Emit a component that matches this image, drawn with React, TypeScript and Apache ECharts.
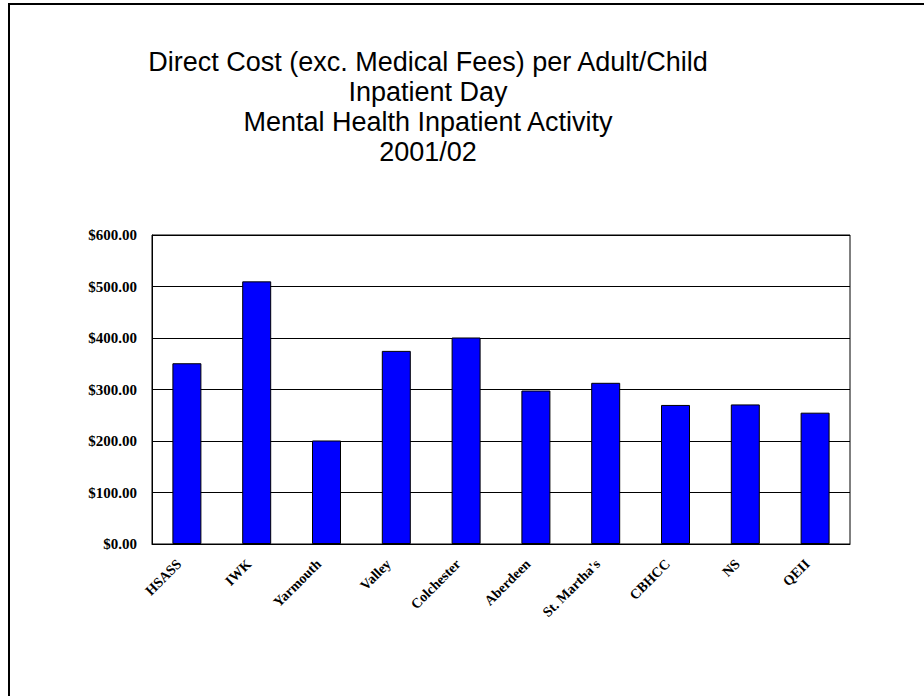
import React, { useEffect, useRef } from "react";
import * as echarts from "echarts";

const titleLines = [
  "Direct Cost (exc. Medical Fees) per Adult/Child",
  "Inpatient Day",
  "Mental Health Inpatient Activity",
  "2001/02",
];
const categories = [
  "HSASS",
  "IWK",
  "Yarmouth",
  "Valley",
  "Colchester",
  "Aberdeen",
  "St. Martha's",
  "CBHCC",
  "NS",
  "QEII",
];
const costPerDay = [351, 510, 201, 375, 401, 298, 313, 270, 271, 255];
const yMin = 0;
const yMax = 600;
const yStep = 100;

export default function App() {
  const ref = useRef<HTMLDivElement>(null);
  useEffect(() => {
    if (!ref.current) return;
    const chart = echarts.init(ref.current, null, { renderer: "svg" });
    chart.setOption({
      animation: false,
      backgroundColor: "#ffffff",
      title: {
        text: titleLines.join("\n"),
        left: 428,
        top: 47,
        padding: 0,
        textAlign: "center",
        textStyle: {
          fontFamily: "Liberation Sans",
          fontSize: 27,
          lineHeight: 30,
          fontWeight: "normal",
          color: "#000000",
        },
      },
      graphic: [
        {
          type: "rect",
          shape: { x: 9, y: 4, width: 1200, height: 1200 },
          style: { fill: "none", stroke: "#000000", lineWidth: 2 },
          silent: true,
        },
      ],
      grid: {
        left: 152,
        top: 235,
        right: 74,
        bottom: 152,
        show: true,
        borderColor: "#000000",
        borderWidth: 1,
        backgroundColor: "#ffffff",
      },
      xAxis: {
        type: "category",
        data: categories,
        axisTick: { show: false },
        axisLine: { lineStyle: { color: "#000000", width: 1 } },
        axisLabel: {
          rotate: 45,
          margin: 10,
          padding: [0, 11, 0, 0],
          interval: 0,
          fontFamily: "Liberation Serif",
          fontWeight: "bold",
          fontSize: 14,
          color: "#000000",
        },
      },
      yAxis: {
        type: "value",
        min: yMin,
        max: yMax,
        interval: yStep,
        axisTick: { show: false },
        axisLine: { show: true, lineStyle: { color: "#000000", width: 1 } },
        splitLine: { lineStyle: { color: "#000000", width: 1 } },
        axisLabel: {
          margin: 15,
          fontFamily: "Liberation Serif",
          fontWeight: "bold",
          fontSize: 15,
          color: "#000000",
          formatter: (v: number) => "$" + v.toFixed(2),
        },
      },
      series: [
        {
          type: "bar",
          data: costPerDay,
          barWidth: 29,
          itemStyle: { color: "#0000FF", borderColor: "#000000", borderWidth: 1 },
        },
      ],
    });
    return () => chart.dispose();
  }, []);
  return (
    <div
      ref={ref}
      style={{ position: "fixed", left: 0, top: 0, width: 924, height: 696, background: "#fff" }}
    />
  );
}
